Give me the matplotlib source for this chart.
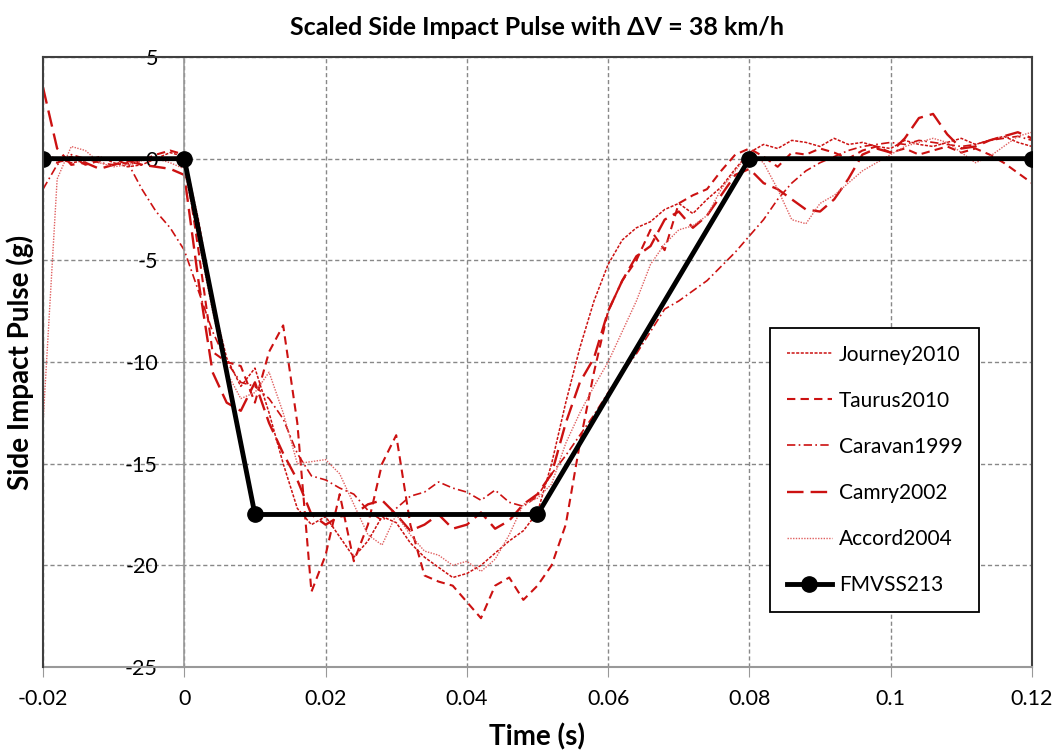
import numpy as np
import matplotlib.pyplot as plt

plt.rcParams['font.family'] = ['Lato', 'DejaVu Sans']

# time base of the measured pulses (s)
t = np.round(np.arange(-0.02, 0.1201, 0.002), 3)

journey2010 = [0.2, 0.0, -0.2, -0.1, 0.1, -0.2, -0.4, -0.3, 0.0, 0.3,
               0.1, -3.0, -7.0, -9.8, -11.2, -10.3, -12.5, -15.0, -17.2, -18.0,
               -17.6, -18.6, -19.6, -18.8, -17.6, -17.9, -18.9, -19.6, -20.1, -20.6,
               -20.4, -20.0, -19.4, -18.8, -18.3, -17.4, -15.0, -12.0, -9.3, -7.0,
               -5.2, -4.0, -3.4, -3.1, -2.5, -2.2, -2.7, -2.0, -1.4, -0.5,
               0.3, 0.7, 0.5, 0.9, 0.8, 0.6, 1.0, 0.7, 0.8, 0.6,
               0.5, 0.9, 0.7, 0.6, 0.8, 1.0, 0.7, 0.9, 1.1, 0.8,
               0.6]
taurus2010 = [0.0, -0.2, 0.1, -0.3, -0.1, 0.0, -0.3, -0.1, 0.2, 0.4,
              0.2, -4.5, -9.5, -10.0, -10.2, -12.0, -9.5, -8.2, -13.0, -21.3,
              -19.5, -16.5, -19.8, -18.0, -15.0, -13.6, -18.0, -20.5, -20.8, -21.0,
              -21.8, -22.6, -21.0, -20.6, -21.7, -21.0, -20.0, -18.0, -14.0, -10.5,
              -7.5, -6.0, -5.0, -3.5, -4.5, -2.2, -1.8, -1.5, -0.6, 0.2,
              0.5, 0.1, -0.4, 0.3, 0.2, 0.5, 0.3, 0.0, 0.4, 0.6,
              0.3, 0.5, 0.2, 0.4, 0.6, 0.3, 0.5, 0.2, -0.2, -0.7,
              -1.2]
caravan1999 = [-1.5, -0.3, 0.2, 0.0, -0.2, -0.3, -0.2, -1.5, -2.6, -3.4,
               -4.5, -6.5, -8.5, -10.0, -11.0, -11.2, -11.8, -12.8, -14.5, -15.6,
               -15.8, -16.2, -16.5, -17.3, -17.8, -17.2, -16.6, -16.4, -15.9, -16.2,
               -16.4, -16.8, -16.3, -16.9, -17.1, -16.6, -15.5, -14.6, -13.6, -12.6,
               -11.5, -10.5, -9.6, -8.5, -7.4, -7.0, -6.5, -6.0, -5.3, -4.6,
               -3.8, -3.0, -2.0, -1.2, -0.6, -0.2, 0.1, 0.4, 0.6, 0.7,
               0.8, 0.7, 0.9, 0.8, 0.7, 0.6, 0.7, 0.9, 1.0, 1.1,
               0.9]
camry2002 = [3.5, 0.5, -0.3, -0.2, -0.5, -0.3, -0.1, -0.3, -0.4, -0.5,
             -0.8, -6.0, -10.5, -12.0, -12.4, -11.0, -13.0, -14.5, -15.8, -17.5,
             -18.0, -17.6, -17.5, -17.0, -16.8, -17.5, -18.3, -18.0, -17.5, -18.2,
             -18.0, -17.4, -18.2, -17.8, -17.0, -16.5, -15.5, -13.0, -11.0, -9.8,
             -7.5, -6.0, -4.8, -4.3, -3.0, -2.6, -3.4, -2.8, -1.8, -0.8,
             -0.5, -1.2, -1.5, -2.0, -2.5, -2.6, -2.0, -1.0, 0.2, 0.5,
             0.3, 1.0, 2.0, 2.2, 1.2, 0.5, 0.6, 0.9, 1.1, 1.3,
             1.0]
accord2004 = [-13.0, -1.0, 0.6, 0.4, -0.2, -0.4, -0.3, -0.1, 0.0, -0.2,
              -0.5, -4.0, -7.5, -10.5, -11.8, -11.5, -10.5, -12.5, -15.0, -14.9,
              -14.8, -15.5, -17.0, -18.5, -19.0, -17.5, -18.5, -19.3, -19.5, -20.0,
              -19.8, -20.3, -19.7, -18.5, -17.0, -16.7, -16.0, -14.0, -12.5, -11.2,
              -10.0, -8.5, -7.0, -5.2, -4.2, -3.5, -3.3, -2.8, -1.5, -0.6,
              0.3, -0.2, -1.5, -3.0, -3.2, -2.2, -1.8, -1.2, -0.6, -0.2,
              0.2, 0.6, 0.8, 1.0, 0.8, 0.3, -0.2, 0.1, 0.6, 1.1,
              1.3]

# FMVSS 213 corridor
fmvss_t = [-0.02, 0.0, 0.01, 0.05, 0.08, 0.12]
fmvss_g = [0, 0, -17.5, -17.5, 0, 0]

fig = plt.figure(figsize=(10.57, 7.54), dpi=100)
ax = fig.add_axes([0.0407, 0.1154, 0.9356, 0.809])

red = '#cc1111'
ax.plot(t, journey2010, color=red, lw=1.1, ls=(0, (2, 1)), label='Journey2010')
ax.plot(t, taurus2010, color=red, lw=1.5, ls=(0, (4, 2.5)), label='Taurus2010')
ax.plot(t, caravan1999, color=red, lw=1.2, ls=(0, (5, 2, 1, 2)), label='Caravan1999')
ax.plot(t, camry2002, color=red, lw=1.7, ls=(0, (7, 3)), label='Camry2002')
ax.plot(t, accord2004, color='#e06060', lw=1.0, ls=(0, (1, 1)), label='Accord2004')
ax.plot(fmvss_t, fmvss_g, color='black', lw=3.5, marker='o', ms=11,
        label='FMVSS213', zorder=5)

ax.set_xlim(-0.02, 0.12)
ax.set_ylim(-25, 5)
ax.set_xticks(np.arange(-0.02, 0.1201, 0.02))
ax.set_xticklabels(['-0.02', '0', '0.02', '0.04', '0.06', '0.08', '0.1', '0.12'])
ax.set_yticks(np.arange(-25, 5.1, 5))
ax.set_yticklabels(['-25', '-20', '-15', '-10', '-5', '0', '5'])

ax.grid(True, color='#888888', lw=1, ls=(0, (3, 2)))
ax.set_axisbelow(True)

# value axis crosses at t = 0, like the original Excel chart
ax.spines['left'].set_position(('data', 0))
ax.spines['left'].set_color('#999999')
ax.spines['left'].set_linewidth(1.2)
ax.spines['bottom'].set_color('#999999')
ax.spines['bottom'].set_linewidth(1.5)
for s in ['top', 'right']:
    ax.spines[s].set_color('#404040')
    ax.spines[s].set_linewidth(1.5)
ax.axvline(-0.02, color='#404040', lw=1.5, clip_on=False, zorder=6)

ax.tick_params(axis='y', direction='out', length=5, color='#999999',
               labelsize=15.5, pad=14)
ax.tick_params(axis='x', direction='out', length=7, color='#999999',
               labelsize=15.5, pad=9)

ax.set_title('Scaled Side Impact Pulse with \u0394V = 38 km/h',
             fontsize=18, fontweight='bold', pad=16)
ax.set_xlabel('Time (s)', fontsize=20, fontweight='bold', labelpad=10)
ax.set_ylabel('Side Impact Pulse (g)', fontsize=20, fontweight='bold')
ax.yaxis.set_label_coords(-0.009, 0.5)

leg = ax.legend(loc='upper left', bbox_to_anchor=(0.735, 0.5557), fontsize=15,
                handlelength=2.2, handletextpad=0.3, labelspacing=1.25,
                borderpad=0.8, borderaxespad=0, fancybox=False, framealpha=1,
                edgecolor='black')
leg.get_frame().set_linewidth(1.3)

fig.savefig('out.png', dpi=100)
